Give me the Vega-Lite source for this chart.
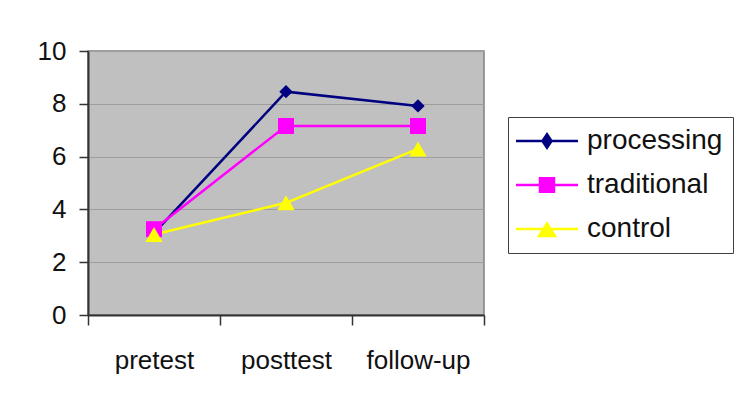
{
  "$schema": "https://vega.github.io/schema/vega-lite/v6.json",
  "width": 396,
  "height": 264,
  "autosize": "none",
  "padding": {"left": 88, "top": 51, "right": 271, "bottom": 96},
  "background": "white",
  "config": {
    "font": "Liberation Sans",
    "view": {"fill": "#C0C0C0", "stroke": "#808080", "strokeWidth": 1.5},
    "legend": {
      "title": null,
      "orient": "none",
      "legendX": 420,
      "legendY": 66,
      "strokeColor": "#404040",
      "padding": 10,
      "rowPadding": 16,
      "labelFontSize": 28,
      "labelColor": "#111111",
      "labelOffset": 26,
      "symbolOffset": 15,
      "symbolSize": 625,
      "symbolStrokeWidth": 2.5,
      "symbolOpacity": 1
    }
  },
  "data": {
    "values": [
      {"stage": "pretest", "group": "processing", "score": 3.1},
      {"stage": "posttest", "group": "processing", "score": 8.46},
      {"stage": "follow-up", "group": "processing", "score": 7.92},
      {"stage": "pretest", "group": "traditional", "score": 3.25},
      {"stage": "posttest", "group": "traditional", "score": 7.16},
      {"stage": "follow-up", "group": "traditional", "score": 7.16},
      {"stage": "pretest", "group": "control", "score": 3.05},
      {"stage": "posttest", "group": "control", "score": 4.25},
      {"stage": "follow-up", "group": "control", "score": 6.29}
    ]
  },
  "encoding": {
    "x": {
      "field": "stage",
      "type": "nominal",
      "sort": ["pretest", "posttest", "follow-up"],
      "scale": {"type": "band", "paddingInner": 0, "paddingOuter": 0},
      "axis": {
        "title": null,
        "labelAngle": 0,
        "tickBand": "extent",
        "tickSize": 10,
        "tickWidth": 1.5,
        "tickColor": "#333333",
        "domainColor": "#333333",
        "domainWidth": 2,
        "labelPadding": 22,
        "labelFontSize": 26,
        "labelColor": "#111111",
        "grid": false
      }
    },
    "y": {
      "field": "score",
      "type": "quantitative",
      "scale": {"domain": [0, 10], "nice": false},
      "axis": {
        "title": null,
        "values": [0, 2, 4, 6, 8, 10],
        "tickSize": 9,
        "tickWidth": 1.5,
        "tickColor": "#333333",
        "domainColor": "#333333",
        "domainWidth": 2,
        "labelPadding": 13,
        "labelFontSize": 26,
        "labelColor": "#111111",
        "gridColor": "#9E9E9E",
        "gridWidth": 1
      }
    },
    "color": {
      "field": "group",
      "type": "nominal",
      "scale": {"domain": ["processing", "traditional", "control"], "range": ["#000080", "#FF00FF", "#FFFF00"]}
    }
  },
  "layer": [
    {"mark": {"type": "line", "strokeWidth": 2.5}},
    {
      "transform": [{"filter": {"field": "group", "equal": "processing"}}],
      "mark": {"type": "point", "filled": true, "opacity": 1, "shape": "diamond", "size": 180}
    },
    {
      "transform": [{"filter": {"field": "group", "equal": "traditional"}}],
      "mark": {"type": "point", "filled": true, "opacity": 1, "shape": "square", "size": 256}
    },
    {
      "transform": [{"filter": {"field": "group", "equal": "control"}}],
      "mark": {"type": "point", "filled": true, "opacity": 1, "shape": "triangle-up", "size": 300}
    },
    {
      "transform": [{"filter": "datum.score < 0"}],
      "mark": {"type": "point", "filled": true, "opacity": 1, "strokeWidth": 2.5},
      "encoding": {
        "shape": {
          "field": "group",
          "type": "nominal",
          "scale": {
            "domain": ["processing", "traditional", "control"],
            "range": [
              "M-2.48,0H2.48M0,-0.54L0.36,0L0,0.54L-0.36,0Z",
              "M-2.48,0H2.48M-0.56,-0.54H0.56V0.54H-0.56Z",
              "M-2.48,0H2.48M0,-0.44L0.64,0.56L-0.64,0.56Z"
            ]
          }
        }
      }
    }
  ]
}
